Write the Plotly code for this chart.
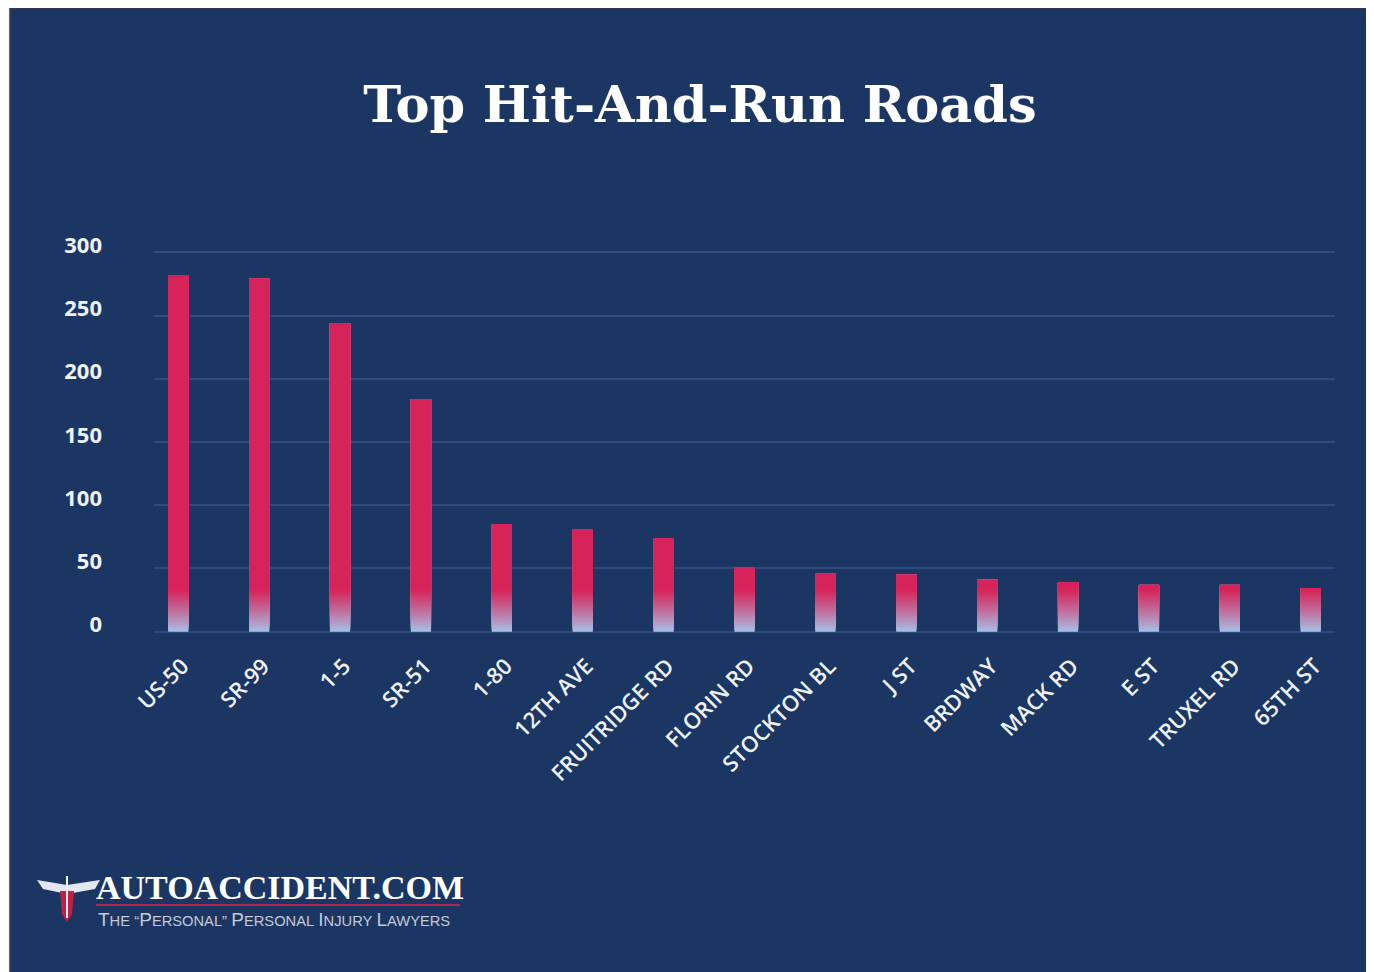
import plotly.graph_objects as go

roads = ["US-50", "SR-99", "1-5", "SR-51", "1-80", "12TH AVE", "FRUITRIDGE RD",
         "FLORIN RD", "STOCKTON BL", "J ST", "BRDWAY", "MACK RD", "E ST",
         "TRUXEL RD", "65TH ST"]
hits = [282, 279, 244, 184, 85, 81, 74, 51, 46, 45, 41, 39, 37, 37, 34]
y_ticks = [0, 50, 100, 150, 200, 250, 300]

# the page adds an 8px body margin, so the figure is drawn 8px in from the window edge
OFF = 8
W, H = 1374 - OFF, 972 - OFF
PL, PR, PT, PB = 154 - OFF, 1335 - OFF, 251 - OFF, 633 - OFF
BG = "#1c3664"
RED = (214, 36, 90)
BLUE = (166, 196, 232)
GRAD_TOP = 33
N_STEPS = 24


def px2x(px):
    return (px - OFF - PL) / (PR - PL)


def py2y(py):
    return (PB - (py - OFF)) / (PB - PT)


def mix(a, b, t):
    return "rgb(%d,%d,%d)" % tuple(round(a[i] + (b[i] - a[i]) * t) for i in range(3))


fig = go.Figure()

# gradient at the foot of each bar: overlapping layers, each starting higher
step = GRAD_TOP / N_STEPS
for k in range(N_STEPS):
    lo = k * step
    heights = [max(0.0, v - lo) for v in hits]
    t = (k + 0.5) / N_STEPS
    fig.add_trace(go.Bar(x=roads, y=heights, base=[lo] * len(hits), width=0.25,
                         marker=dict(color=mix(BLUE, RED, t ** 0.9), line=dict(width=0)),
                         hoverinfo="skip", showlegend=False))
# solid red upper part
fig.add_trace(go.Bar(x=roads, y=[max(0.0, v - GRAD_TOP) for v in hits],
                     base=[GRAD_TOP] * len(hits), width=0.25,
                     marker=dict(color=mix(RED, RED, 0), line=dict(width=0)),
                     customdata=hits, hovertemplate="%{x}: %{customdata}<extra></extra>",
                     showlegend=False))

shapes = [
    # dark panel
    dict(type="rect", xref="paper", yref="paper", layer="below",
         x0=px2x(10), x1=px2x(1368), y0=py2y(8), y1=py2y(980),
         fillcolor=BG, line=dict(color="#3a3f4a", width=1.5)),
    # logo wings
    dict(type="path", xref="paper", yref="paper", layer="above",
         path="M %f,%f L %f,%f L %f,%f L %f,%f L %f,%f L %f,%f Z" % (
             px2x(37), py2y(880), px2x(67), py2y(885), px2x(100), py2y(880),
             px2x(95), py2y(889), px2x(67), py2y(894), px2x(43), py2y(889)),
         fillcolor="#e3e7ef", line=dict(width=0)),
    # logo body
    dict(type="path", xref="paper", yref="paper", layer="above",
         path="M %f,%f L %f,%f L %f,%f L %f,%f L %f,%f Z" % (
             px2x(60), py2y(891), px2x(74), py2y(891), px2x(72), py2y(914),
             px2x(67), py2y(922), px2x(62), py2y(914)),
         fillcolor="#c21f45", line=dict(width=0)),
    dict(type="line", xref="paper", yref="paper", layer="above",
         x0=px2x(67), x1=px2x(67), y0=py2y(876), y1=py2y(918),
         line=dict(color="#f0f2f7", width=2)),
    # logo underline
    dict(type="line", xref="paper", yref="paper", layer="above",
         x0=px2x(96), x1=px2x(460), y0=py2y(905), y1=py2y(905),
         line=dict(color="#b3264c", width=2)),
]


def sc(word, big=19, small=14.7):
    return ('<span style="font-size:%spx">%s</span><span style="font-size:%spx">%s</span>'
            % (big, word[0], small, word[1:]))


subtitle = " ".join([sc("THE"), '\u201c' + sc("PERSONAL") + '\u201d', sc("PERSONAL"),
                     sc("INJURY"), sc("LAWYERS")])

annotations = [
    dict(text="<b>AUTOACCIDENT.COM</b>", xref="paper", yref="paper",
         x=px2x(95), y=py2y(906.5), xanchor="left", yanchor="bottom", borderpad=0,
         showarrow=False,
         font=dict(family="Liberation Serif", size=34, color="#ffffff")),
    dict(text=subtitle, xref="paper", yref="paper",
         x=px2x(97), y=py2y(907.5), xanchor="left", yanchor="top", borderpad=0,
         showarrow=False,
         font=dict(family="Liberation Sans", size=15, color="#c3c9d6")),
]

fig.update_layout(
    width=W, height=H,
    margin=dict(l=PL, r=W - PR, t=PT, b=H - PB),
    paper_bgcolor="#f3f3f3",
    plot_bgcolor="rgba(0,0,0,0)",
    barmode="overlay",
    title=dict(text="<b>Top Hit-And-Run Roads</b>", x=(700 - OFF) / W, xref="container",
               xanchor="center", y=1 - (104 - OFF) / H, yref="container", yanchor="middle",
               font=dict(family="DejaVu Serif", size=51, color="#ffffff")),
    xaxis=dict(range=[-0.3, 14.3], tickangle=-45, showgrid=False, zeroline=False,
               showline=False, ticks="", ticklabelstandoff=15, ticklabelshift=4,
               tickfont=dict(family="Open Sans", size=22, color="#eef1f7", weight=600)),
    yaxis=dict(range=[-1, 301], tickvals=y_ticks, showgrid=True, gridcolor="#2f4b7e",
               gridwidth=1.5, zeroline=False, showline=False, ticks="",
               ticklabelstandoff=51, ticklabelshift=-7,
               tickfont=dict(family="Open Sans", size=22, color="#eef1f7", weight="bold")),
    shapes=shapes,
    annotations=annotations,
)

fig.write_html("out.html")
